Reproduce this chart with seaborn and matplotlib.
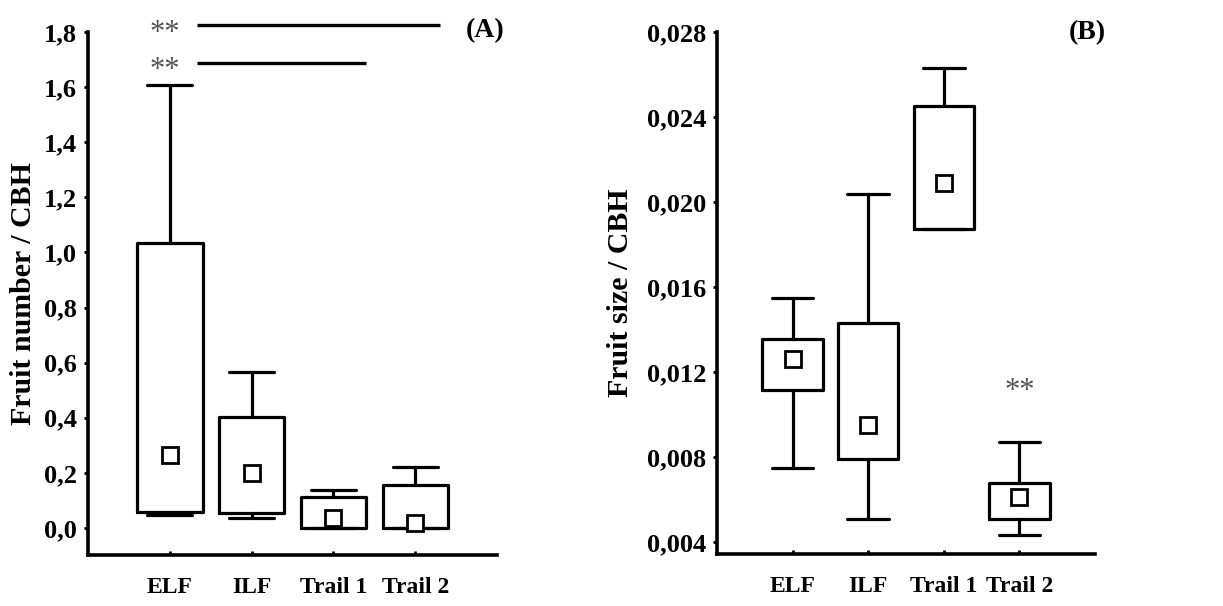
import matplotlib
import matplotlib.pyplot as plt
import numpy as np
import seaborn as sns

matplotlib.use("Agg")

CATEGORIES = ["ELF", "ILF", "Trail 1", "Trail 2"]

# (A) Fruit number / CBH
A_MARKER = [0.265, 0.200, 0.036, 0.019]
A_BOX_LOW = [0.059, 0.054, 0.000, 0.000]
A_BOX_HIGH = [1.034, 0.404, 0.114, 0.156]
A_WHISK_LOW = [0.047, 0.036, 0.000, 0.000]
A_WHISK_HIGH = [1.608, 0.567, 0.138, 0.221]
A_SIG_Y = [1.826, 1.689]
A_SIG_END = [3.30, 2.40]

# (B) Fruit size / CBH
B_MARKER = [0.0126, 0.0095, 0.0209, 0.0061]
B_BOX_LOW = [0.01115, 0.00789, 0.01871, 0.00507]
B_BOX_HIGH = [0.01354, 0.01432, 0.02452, 0.00676]
B_WHISK_LOW = [0.00747, 0.00507, 0.01871, 0.00433]
B_WHISK_HIGH = [0.01548, 0.02038, 0.02632, 0.00872]
B_SIG_Y = 0.0114

FONT = "Liberation Serif"
GRIS = "#555555"


def _estilo():
    sns.set_style("ticks")
    plt.rcParams.update({
        "font.family": [FONT, "DejaVu Serif"],
        "font.weight": "bold",
        "axes.linewidth": 2.6,
        "axes.edgecolor": "black",
        "axes.labelcolor": "black",
        "text.color": "black",
        "xtick.color": "black",
        "ytick.color": "black",
    })


def _stats(marker, q1, q3, lo, hi):
    out = []
    for m, a, b, c, d in zip(marker, q1, q3, lo, hi):
        out.append({"med": m, "mean": m, "q1": a, "q3": b,
                    "whislo": c, "whishi": d, "fliers": []})
    return out


def _caixas(ax, stats):
    pos = np.arange(len(CATEGORIES))
    ax.bxp(stats, positions=pos, widths=0.8, capwidths=0.55,
           showmeans=True, showfliers=False,
           boxprops={"linewidth": 2.3, "color": "black"},
           whiskerprops={"linewidth": 2.3, "color": "black"},
           capprops={"linewidth": 2.3, "color": "black"},
           medianprops={"linewidth": 0},
           meanprops={"marker": "s", "markersize": 11.5, "markerfacecolor": "white",
                      "markeredgecolor": "black", "markeredgewidth": 2.0})
    ax.set_xlim(-1, 4)
    ax.set_xticks(pos)
    ax.set_xticklabels(CATEGORIES, fontsize=17, fontweight="bold")
    ax.tick_params(axis="x", direction="in", length=3, width=2, pad=16)
    ax.tick_params(axis="y", direction="out", length=3, width=2, pad=5, labelsize=19)
    for lab in ax.get_yticklabels():
        lab.set_fontweight("bold")
    sns.despine(ax=ax)


_estilo()
fig = plt.figure(figsize=(12.23, 6.06), dpi=100)
fig.patch.set_facecolor("white")

# Painel A
ax1 = fig.add_axes([0.0720, 0.0842, 0.3344, 0.8630])
_caixas(ax1, _stats(A_MARKER, A_BOX_LOW, A_BOX_HIGH, A_WHISK_LOW, A_WHISK_HIGH))
ax1.set_ylim(-0.098, 1.8)
ax1.set_yticks(np.arange(0, 1.81, 0.2))
ax1.set_yticklabels([f"{v:.1f}".replace(".", ",") for v in np.arange(0, 1.81, 0.2)],
                    fontweight="bold")
ax1.set_ylabel("Fruit number / CBH", fontsize=21.5, fontweight="bold")
ax1.yaxis.set_label_coords(-0.125, 0.5)
ax1.hlines(A_SIG_Y, 0.333, A_SIG_END, colors="black", linewidth=2.4, clip_on=False)
for y in A_SIG_Y:
    ax1.text(-0.06, y - 0.03, "**", fontsize=22, color=GRIS, ha="center", va="center",
             fontweight="normal", clip_on=False)
fig.text(0.397, 0.950, "(A)", fontsize=20, fontweight="bold", ha="center", va="center")

# Painel B
ax2 = fig.add_axes([0.5863, 0.0858, 0.3091, 0.8614])
_caixas(ax2, _stats(B_MARKER, B_BOX_LOW, B_BOX_HIGH, B_WHISK_LOW, B_WHISK_HIGH))
ax2.set_ylim(0.00344, 0.028)
b_ticks = np.arange(0.004, 0.0281, 0.004)
ax2.set_yticks(b_ticks)
ax2.set_yticklabels([f"{v:.3f}".replace(".", ",") for v in b_ticks], fontweight="bold")
ax2.set_ylabel("Fruit size / CBH", fontsize=21.5, fontweight="bold")
ax2.yaxis.set_label_coords(-0.22, 0.5)
ax2.text(3.0, B_SIG_Y - 0.0003, "**", fontsize=22, color=GRIS, ha="center", va="center",
         fontweight="normal")
fig.text(0.889, 0.947, "(B)", fontsize=20, fontweight="bold", ha="center", va="center")

fig.savefig("out.png", dpi=100, facecolor="white")
plt.close(fig)
